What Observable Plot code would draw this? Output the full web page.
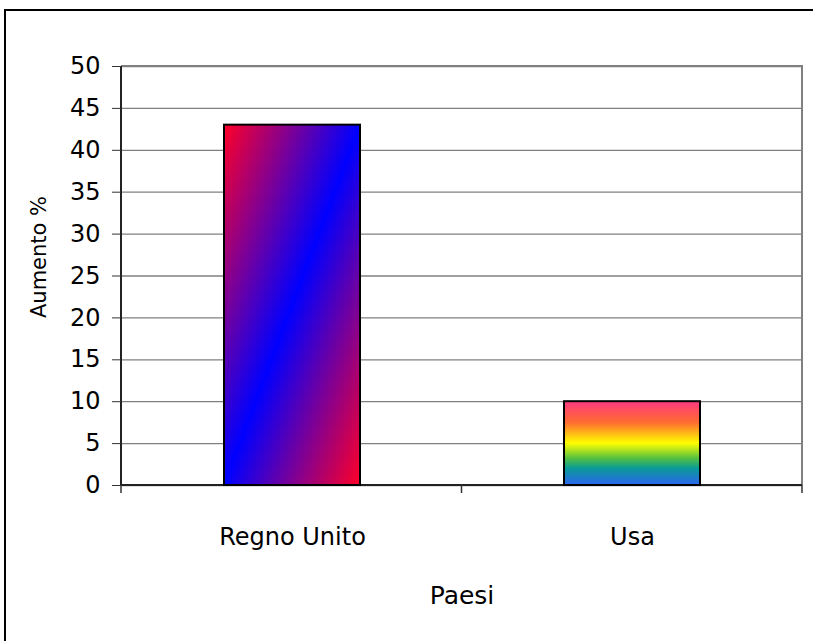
<!DOCTYPE html>
<html>
<head>
<meta charset="utf-8">
<script src="https://cdn.jsdelivr.net/npm/d3@7"></script>
<script src="https://cdn.jsdelivr.net/npm/@observablehq/plot@0.6"></script>
<style>
  html, body { margin: 0; padding: 0; background: #fff; overflow: hidden; }
  #chart { position: absolute; left: 0; top: 0; width: 813px; height: 641px; overflow: hidden; }
  #chart svg { display: block; }
</style>
</head>
<body>
<div id="chart"></div>
<script>
const categories = ["Regno Unito", "Usa"];
const values = [43, 10];
const yTicks = [0, 5, 10, 15, 20, 25, 30, 35, 40, 45, 50];
const yDomain = [0, 50];
const yLabel = "Aumento %";
const xLabel = "Paesi";

const data = categories.map((c, i) => ({country: c, value: values[i]}));
const FONT = "'Comic Sans MS', 'DejaVu Sans', sans-serif";

function defsMark() {
  const g = d3.create("svg:g");
  const defs = g.append("defs");
  const g1 = defs.append("linearGradient").attr("id", "grad0")
    .attr("x1", 0).attr("y1", 0).attr("x2", 1).attr("y2", 1);
  [[0, "#ff0028"], [0.5, "#0000ff"], [1, "#ff0028"]].forEach(([o, c]) =>
    g1.append("stop").attr("offset", o).attr("stop-color", c));
  const g2 = defs.append("linearGradient").attr("id", "grad1")
    .attr("x1", 0).attr("y1", 0).attr("x2", 0).attr("y2", 1);
  [[0, "#ff3a82"], [0.25, "#ff6a30"], [0.5, "#ffff00"], [0.68, "#55c040"], [0.8, "#0a9a98"], [1, "#2d64f0"]].forEach(([o, c]) =>
    g2.append("stop").attr("offset", o).attr("stop-color", c));
  return g.node();
}

function chartBorder(index, scales, values, dim) {
  const {width, height} = dim;
  return d3.create("svg:path")
    .attr("d", `M5,${height + 5}V10H${width + 5}`)
    .attr("fill", "none").attr("stroke", "#000").attr("stroke-width", 2).node();
}

function frameLines(index, scales, values, dim) {
  const {width, height, marginLeft, marginRight, marginTop, marginBottom} = dim;
  const L = marginLeft, R = width - marginRight, T = marginTop, B = height - marginBottom;
  const g = d3.create("svg:g").attr("fill", "none");
  g.append("path").attr("d", `M${L},${T}H${R}V${B}`).attr("stroke", "#808080").attr("stroke-width", 2);
  g.append("path").attr("d", `M${L},${T}V${B}H${R}`).attr("stroke", "#222").attr("stroke-width", 2);
  const n = categories.length;
  for (let k = 0; k <= n; k++) {
    const x = L + k * (R - L) / n;
    g.append("line").attr("x1", x).attr("x2", x).attr("y1", B).attr("y2", B + 8)
      .attr("stroke", "#333").attr("stroke-width", 1.5);
  }
  return g.node();
}

const chart = Plot.plot({
  width: 813,
  height: 641,
  marginLeft: 121,
  marginRight: 11,
  marginTop: 66,
  marginBottom: 156,
  style: {fontFamily: FONT, background: "#fff", color: "#000"},
  x: {domain: categories, paddingInner: 0.6, paddingOuter: 0.3, label: null},
  y: {domain: yDomain, label: null},
  color: {type: "identity"},
  marks: [
    defsMark,
    chartBorder,
    Plot.gridY(yTicks, {stroke: "#808080", strokeOpacity: 1, strokeWidth: 1.3}),
    frameLines,
    Plot.barY(data, {x: "country", y: "value", fill: (d, i) => `url(#grad${i})`, stroke: "#000", strokeWidth: 2}),
    Plot.axisY(yTicks, {tickSize: 9, tickPadding: 12, fontSize: 24, stroke: "#333", label: null}),
    Plot.axisX({tickSize: 0, tickPadding: 42, fontSize: 24, label: null}),
    Plot.text([yLabel], {frameAnchor: "left", textAnchor: "middle", rotate: -90, dx: -82, dy: -19, fontSize: 21}),
    Plot.text([xLabel], {frameAnchor: "bottom", dy: 118, fontSize: 25})
  ]
});
document.getElementById("chart").appendChild(chart);
</script>
</body>
</html>
